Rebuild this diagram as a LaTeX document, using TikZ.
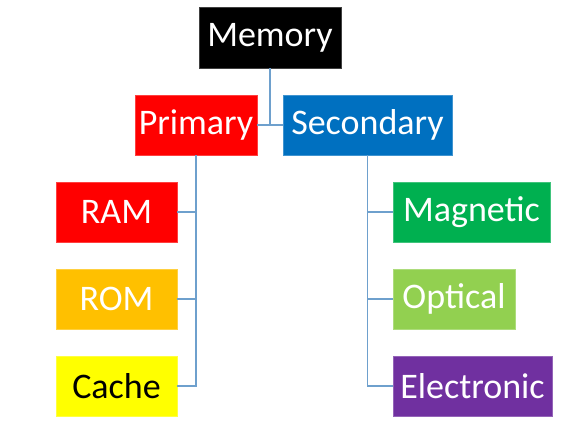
\documentclass[tikz,border=0pt]{standalone}
\usepackage{fontspec}
\setmainfont{Carlito}
\definecolor{cSec}{RGB}{0,112,192}
\definecolor{cRed}{RGB}{255,0,0}
\definecolor{cRom}{RGB}{255,192,0}
\definecolor{cCache}{RGB}{255,255,0}
\definecolor{cMag}{RGB}{0,176,80}
\definecolor{cOpt}{RGB}{146,208,80}
\definecolor{cEle}{RGB}{112,48,160}
\definecolor{cLine}{RGB}{110,160,205}
\begin{document}
\begin{tikzpicture}[x=1pt,y=-1pt,
  box/.style={rectangle,minimum height=60pt,inner sep=0pt,text=white,
    font=\fontsize{36}{40}\selectfont,draw=#1!75!white,line width=0.6pt,fill=#1},
  conn/.style={draw=cLine,line width=1.4pt}]
\useasboundingbox (0,0) rectangle (569,433);
\node[box=black,minimum width=142pt,minimum height=61pt] (mem) at (270,37.5) {Memory};
\node[box=cRed,minimum width=122pt] (prim) at (196,125) {Primary};
\node[box=cSec,minimum width=169pt] (sec) at (367.5,125) {Secondary};
\node[box=cRed,minimum width=121pt] (ram) at (116.5,212) {RAM};
\node[box=cRom,minimum width=121pt] (rom) at (116.5,299) {ROM};
\node[box=cCache,minimum width=121pt,text=black] (cache) at (116.5,386) {Cache};
\node[box=cMag,minimum width=157pt] (mag) at (471.5,212) {Magnetic};
\node[box=cOpt,minimum width=122pt] (opt) at (454,299) {Optical};
\node[box=cEle,minimum width=159pt] (ele) at (472.5,386) {Electronic};
\draw[conn] (mem.south) -- (mem.south |- prim.east);
\draw[conn] (prim.east) -- (sec.west);
\draw[conn] (prim.south) |- (ram.east);
\draw[conn] (prim.south) |- (rom.east);
\draw[conn] (prim.south) |- (cache.east);
\draw[conn] (sec.south) |- (mag.west);
\draw[conn] (sec.south) |- (opt.west);
\draw[conn] (sec.south) |- (ele.west);
\end{tikzpicture}
\end{document}
